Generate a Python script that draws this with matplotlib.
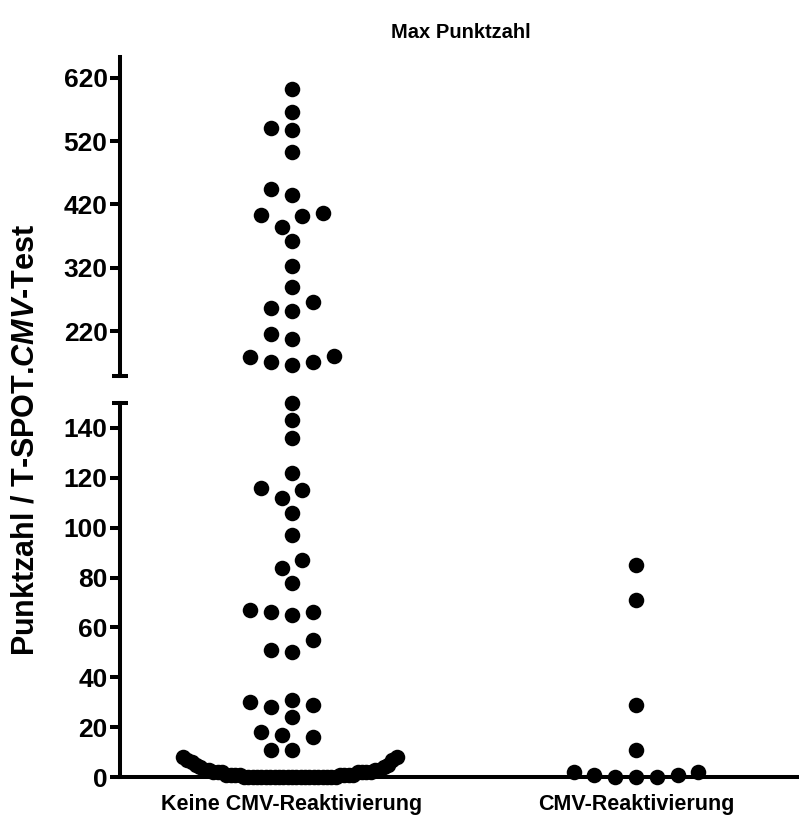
import matplotlib
matplotlib.use('Agg')
import matplotlib.pyplot as plt
import numpy as np

plt.rcParams['font.family'] = ['Liberation Sans', 'DejaVu Sans']
plt.rcParams['font.weight'] = 'bold'
plt.rcParams['mathtext.fontset'] = 'custom'
plt.rcParams['mathtext.it'] = 'Liberation Sans:italic:bold'
plt.rcParams['mathtext.rm'] = 'Liberation Sans:bold'

# data
groups = ['Keine CMV-Reaktivierung', 'CMV-Reaktivierung']

keine_cmv = [602, 565, 540, 538, 502, 444, 435, 406, 403, 402, 384, 362,
             323, 290, 266, 257, 252, 215, 208, 181, 180, 172, 171, 167,
             150, 143, 136, 122, 116, 115, 112, 106, 97, 87, 84, 78,
             67, 66, 66, 65, 55, 51, 50, 31, 30, 29, 28, 24, 18, 17, 16,
             11, 11,
             8, 8, 7, 7, 6, 5, 5, 4, 4, 3, 3, 3, 3, 2, 2, 2, 2, 2, 2, 2,
             1, 1, 1, 1, 1, 1, 1, 1,
             0, 0, 0, 0, 0, 0, 0, 0, 0, 0, 0, 0, 0, 0, 0, 0, 0, 0, 0, 0,
             0, 0]
cmv = [85, 71, 29, 11, 2, 2, 1, 1, 0, 0, 0]

lo_ticks = [0, 20, 40, 60, 80, 100, 120, 140]
hi_ticks = [220, 320, 420, 520, 620]
brk = 150
top = 653

fig = plt.figure(figsize=(7.99, 8.19), dpi=100)
ax_lo = fig.add_axes([0.1502, 0.0509, 0.8498, 0.4574])
ax_hi = fig.add_axes([0.1502, 0.5413, 0.8498, 0.3895])

for ax in (ax_lo, ax_hi):
    ax.set_xlim(-0.5, 1.474)
    ax.spines['top'].set_visible(False)
    ax.spines['right'].set_visible(False)
    ax.spines['left'].set_linewidth(2.9)
    ax.tick_params(axis='y', direction='out', length=7, width=2.9,
                   labelsize=19, pad=2)
    ax.tick_params(axis='y', which='minor', direction='inout', length=12,
                   width=2.9)

ax_lo.set_ylim(0, brk)
ax_hi.set_ylim(brk, top)
ax_lo.set_yticks(lo_ticks)
ax_hi.set_yticks(hi_ticks)
ax_lo.set_yticks([brk], minor=True)
ax_hi.set_yticks([brk], minor=True)
ax_hi.spines['bottom'].set_visible(False)
ax_hi.set_xticks([])
ax_lo.spines['bottom'].set_linewidth(2.9)
ax_lo.set_xticks([0, 1])
ax_lo.set_xticklabels(groups)
ax_lo.tick_params(axis='x', direction='out', length=5, width=2.9,
                  labelsize=15.5, pad=7)


def to_px(v):
    ax = ax_hi if v > brk else ax_lo
    return ax.transData.transform((0, v))[1]


def swarm(values, xc):
    # GraphPad-like: crowded bottom row squeezed, the rest stacked greedily
    step = 10.4          # px, half dot spacing
    dia = 16.5           # px, min distance between dot centres
    row_w = 214.0        # px
    xc_px = ax_lo.transData.transform((xc, 0))[0]
    vals = sorted(values)
    row = [v for v in vals if v < 10]
    rest = [v for v in vals if v >= 10]
    placed = []
    n = len(row)
    sp = 2 * step if n < 2 else min(2 * step, row_w / (n - 1))
    for r, v in enumerate(row):
        k = (r + 1) // 2
        off = -k * sp if r % 2 else k * sp
        placed.append((off, to_px(v), v))
    for v in rest:
        y = to_px(v)
        k = 0
        while True:
            for off in ([0] if k == 0 else [-k * step, k * step]):
                if all(np.hypot(off - px, y - py) >= dia for px, py, _ in placed):
                    break
            else:
                k += 1
                continue
            break
        placed.append((off, y, v))
    inv = ax_lo.transData.inverted()
    xs = [inv.transform((xc_px + off, 0))[0] for off, _, _ in placed]
    return xs, [v for _, _, v in placed]


for i, vals in enumerate([keine_cmv, cmv]):
    xs, ys = swarm(vals, i)
    xs = np.array(xs)
    ys = np.array(ys)
    up = ys > brk
    ax_hi.scatter(xs[up], ys[up], s=125, color='black', linewidths=0,
                  zorder=3, clip_on=False)
    ax_lo.scatter(xs[~up], ys[~up], s=125, color='black', linewidths=0,
                  zorder=3, clip_on=False)

fig.text(461 / 799, 1 - 33 / 819, 'Max Punktzahl', ha='center', va='center',
         fontsize=14.5, fontweight='bold')
fig.text(26 / 799, 1 - 440 / 819, 'Punktzahl / T-SPOT.$\\mathit{CMV}$-Test',
         rotation=90, ha='center', va='center', fontsize=22, fontweight='bold')

fig.savefig('out.png', dpi=100)
